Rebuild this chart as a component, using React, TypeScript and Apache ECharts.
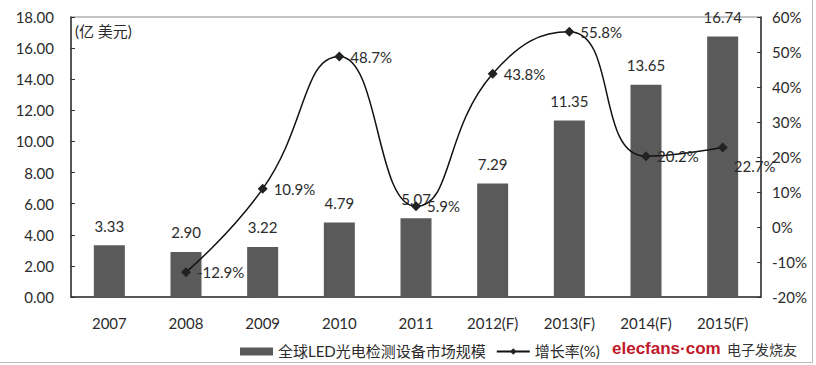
import React, { useEffect, useRef } from "react";
import * as echarts from "echarts";

const categories = ["2007", "2008", "2009", "2010", "2011", "2012(F)", "2013(F)", "2014(F)", "2015(F)"];
const marketSize = [3.33, 2.9, 3.22, 4.79, 5.07, 7.29, 11.35, 13.65, 16.74];
const growthRate: (number | null)[] = [null, -12.9, 10.9, 48.7, 5.9, 43.8, 55.8, 20.2, 22.7];
const barName = "全球LED光电检测设备市场规模";
const lineName = "增长率(%)";
const unitLabel = "(亿 美元)";

const FONT = "Lato, 'Noto Sans CJK SC', sans-serif";
const TXT = "#2b2b2b";

export default function App() {
  const ref = useRef<HTMLDivElement>(null);
  useEffect(() => {
    if (!ref.current) return;
    const chart = echarts.init(ref.current, undefined, { renderer: "svg" });
    const lineData = growthRate.map((v, i) =>
      i === growthRate.length - 1
        ? { value: v, label: { position: "bottom", offset: [32, 0] } }
        : v
    );
    chart.setOption({
      animation: false,
      backgroundColor: "#ffffff",
      textStyle: { fontFamily: FONT, color: TXT },
      grid: { left: 71, right: 55, top: 17, bottom: 68, show: true, borderColor: "#888", borderWidth: 1 },
      legend: {
        bottom: 1,
        left: 235,
        itemGap: 10,
        textStyle: { fontFamily: FONT, fontSize: 15, color: TXT },
        data: [
          { name: barName, icon: "rect", itemWidth: 29, itemHeight: 8 },
          { name: lineName },
        ],
        itemWidth: 33,
        itemHeight: 8,
      },
      xAxis: {
        type: "category",
        data: categories,
        axisLine: { lineStyle: { color: "#333", width: 1.5 } },
        axisTick: { inside: true, length: 5, lineStyle: { color: "#333" } },
        axisLabel: { fontFamily: FONT, fontSize: 15, color: TXT, margin: 18 },
      },
      yAxis: [
        {
          type: "value",
          min: 0,
          max: 18,
          interval: 2,
          axisLine: { show: true, lineStyle: { color: "#333", width: 1.5 } },
          axisTick: { show: true, inside: true, length: 4, lineStyle: { color: "#333" } },
          splitLine: { show: false },
          axisLabel: { fontFamily: FONT, fontSize: 15, color: TXT, margin: 17, formatter: (v: number) => v.toFixed(2) },
        },
        {
          type: "value",
          min: -20,
          max: 60,
          interval: 10,
          axisLine: { show: true, lineStyle: { color: "#333", width: 1.5 } },
          axisTick: { show: true, inside: true, length: 4, lineStyle: { color: "#333" } },
          splitLine: { show: false },
          axisLabel: { fontFamily: FONT, fontSize: 15, color: TXT, margin: 11, formatter: "{value}%" },
        },
      ],
      series: [
        {
          name: barName,
          type: "bar",
          data: marketSize,
          barWidth: 31,
          itemStyle: { color: "#5a5a5a" },
          label: {
            show: true,
            position: "top",
            distance: 12,
            fontFamily: FONT,
            fontSize: 15,
            color: TXT,
            formatter: (p: any) => p.value.toFixed(2),
          },
        },
        {
          name: lineName,
          type: "line",
          yAxisIndex: 1,
          data: lineData,
          smooth: 0.5,
          symbol: "diamond",
          symbolSize: 10,
          lineStyle: { color: "#111", width: 1.5 },
          itemStyle: { color: "#222" },
          label: {
            show: true,
            position: "right",
            distance: 6,
            fontFamily: FONT,
            fontSize: 15,
            color: TXT,
            formatter: (p: any) => p.value + "%",
          },
        },
      ],
      graphic: [
        { type: "text", left: 75, top: 23, style: { text: unitLabel, fontFamily: FONT, fontSize: 15, fill: TXT } },
        {
          type: "text",
          left: 612,
          top: 340,
          style: { text: "elecfans·com", fontFamily: "'Liberation Sans', Arial, sans-serif", fontWeight: "bold", fontSize: 17, fill: "#c0182a" },
        },
        {
          type: "text",
          left: 727,
          top: 342,
          style: { text: "电子发烧友", fontFamily: "'Noto Sans CJK SC', sans-serif", fontSize: 14, fill: "#333" },
        },
        { type: "line", shape: { x1: 0, y1: 362.5, x2: 812, y2: 362.5 }, style: { stroke: "#bbb", lineWidth: 1 } },
        { type: "line", shape: { x1: 812.5, y1: 0, x2: 812.5, y2: 363 }, style: { stroke: "#bbb", lineWidth: 1 } },
      ],
    });
    return () => chart.dispose();
  }, []);
  return <div ref={ref} style={{ width: 816, height: 365, position: "absolute", left: 0, top: 0 }} />;
}
